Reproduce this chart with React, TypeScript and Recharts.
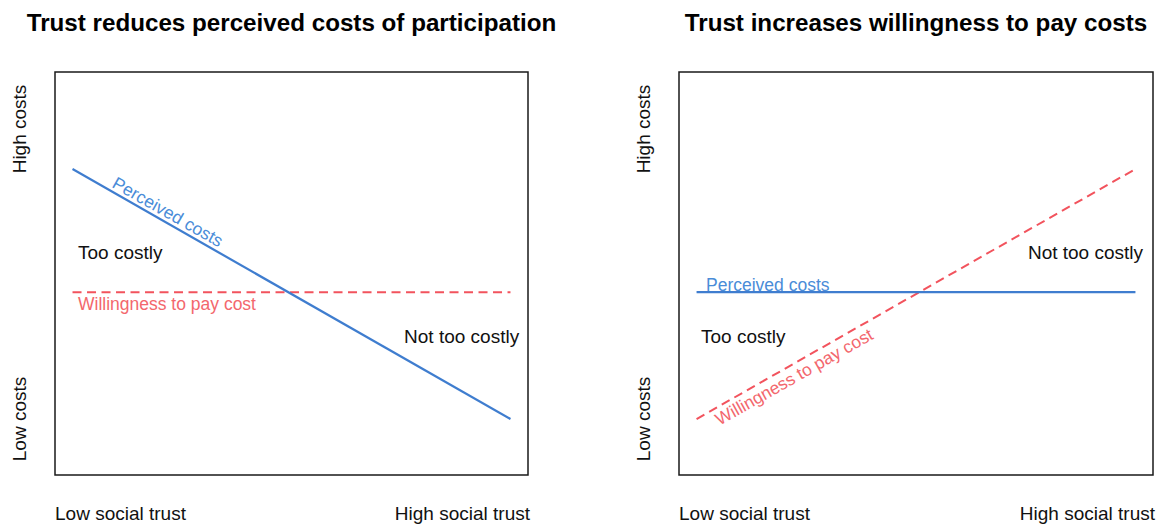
import React from 'react';
import { LineChart, Line, XAxis, YAxis, ReferenceArea, ReferenceDot } from 'recharts';

// x = social trust (0 = low, 1 = high), y = cost level (0 = low, 1 = high)
const trustLevels = [0, 1];
const trustLabels = ['Low social trust', 'High social trust'];
const costLabels = ['Low costs', 'High costs'];

const reducesTitle = 'Trust reduces perceived costs of participation';
const reducesPerceived = [0.78, 0.11];
const reducesWillingness = [0.45, 0.45];

const increasesTitle = 'Trust increases willingness to pay costs';
const increasesPerceived = [0.45, 0.45];
const increasesWillingness = [0.11, 0.78];

// in-plot annotations: text + anchor in data coords
const reducesNotes = [
	{ text: 'Too costly', x: 0.0125, y: 0.539, kind: 'region' },
	{ text: 'Not too costly', x: 0.757, y: 0.314, kind: 'region' },
	{ text: 'Willingness to pay cost', x: 0.0125, y: 0.402, kind: 'willing' },
	{ text: 'Perceived costs', x: 0.211, y: 0.651, kind: 'perceived', angle: 29.4 },
];
const increasesNotes = [
	{ text: 'Too costly', x: 0.0101, y: 0.314, kind: 'region' },
	{ text: 'Not too costly', x: 0.755, y: 0.539, kind: 'region' },
	{ text: 'Perceived costs', x: 0.0215, y: 0.453, kind: 'perceived' },
	{ text: 'Willingness to pay cost', x: 0.229, y: 0.209, kind: 'willing', angle: -29.4 },
];

const DOMAIN: [number, number] = [-0.04, 1.04];
const BLUE = '#3f7dcf';
const RED = '#f2535d';
const FONT = 'Arial, "Liberation Sans", sans-serif';
const H = 525;

const NOTE_STYLE: any = {
	region: { fill: '#111', fontSize: 19 },
	perceived: { fill: '#4a8cd8', fontSize: 17.5 },
	willing: { fill: '#f3676d', fontSize: 17.5 },
};

const toSeries = (values: number[]) => trustLevels.map((x, i) => ({ x, y: values[i] }));

const Panel = ({ left, width, box, title, perceived, willingness, notes }: any) => {
	const [bx0, by0, bx1, by1] = box; // plot box in panel coords
	const cx = (bx0 + bx1) / 2;
	return (
		<div style={{ position: 'absolute', left, top: 0, width, height: H }}>
			<LineChart
				width={width}
				height={H}
				margin={{ left: bx0, top: by0, right: width - bx1, bottom: H - by1 }}
			>
				<XAxis type="number" dataKey="x" domain={DOMAIN} hide />
				<YAxis type="number" dataKey="y" domain={DOMAIN} hide />
				<ReferenceArea
					x1={DOMAIN[0]}
					x2={DOMAIN[1]}
					y1={DOMAIN[0]}
					y2={DOMAIN[1]}
					fill="none"
					stroke="#1a1a1a"
					strokeWidth={1.5}
					ifOverflow="visible"
				/>
				<Line
					data={toSeries(willingness)}
					dataKey="y"
					stroke={RED}
					strokeWidth={2}
					strokeDasharray="9 5.5"
					dot={false}
					isAnimationActive={false}
				/>
				<Line
					data={toSeries(perceived)}
					dataKey="y"
					stroke={BLUE}
					strokeWidth={2.2}
					dot={false}
					isAnimationActive={false}
				/>
				{notes.map((n: any, i: number) => (
					<ReferenceDot
						key={i}
						x={n.x}
						y={n.y}
						r={0}
						shape={(p: any) => (
							<text
								x={p.cx}
								y={p.cy}
								textAnchor={n.angle ? 'middle' : 'start'}
								transform={n.angle ? `rotate(${n.angle} ${p.cx} ${p.cy})` : undefined}
								style={{ fontFamily: FONT }}
								{...NOTE_STYLE[n.kind]}
							>
								{n.text}
							</text>
						)}
					/>
				))}
			</LineChart>
			<svg
				width={width}
				height={H}
				style={{ position: 'absolute', left: 0, top: 0, pointerEvents: 'none', fontFamily: FONT }}
			>
				<text x={cx} y={31} textAnchor="middle" fontSize={24.2} fontWeight="bold" fill="#000">
					{title}
				</text>
				<text x={bx0} y={520} fontSize={19} fill="#111">
					{trustLabels[0]}
				</text>
				<text x={bx1 + 2} y={520} textAnchor="end" fontSize={19} fill="#111">
					{trustLabels[1]}
				</text>
				<text
					x={bx0 - 29}
					y={129}
					textAnchor="middle"
					fontSize={19}
					fill="#111"
					transform={`rotate(-90 ${bx0 - 29} 129)`}
				>
					{costLabels[1]}
				</text>
				<text
					x={bx0 - 29}
					y={419}
					textAnchor="middle"
					fontSize={19}
					fill="#111"
					transform={`rotate(-90 ${bx0 - 29} 419)`}
				>
					{costLabels[0]}
				</text>
			</svg>
		</div>
	);
};

const App = () => (
	<div style={{ position: 'absolute', left: 0, top: 0, width: 1161, height: H, background: '#fff' }}>
		<Panel
			left={0}
			width={580}
			box={[55, 72, 528, 475]}
			title={reducesTitle}
			perceived={reducesPerceived}
			willingness={reducesWillingness}
			notes={reducesNotes}
		/>
		<Panel
			left={580}
			width={581}
			box={[99, 72, 573, 475]}
			title={increasesTitle}
			perceived={increasesPerceived}
			willingness={increasesWillingness}
			notes={increasesNotes}
		/>
	</div>
);

export default App;
